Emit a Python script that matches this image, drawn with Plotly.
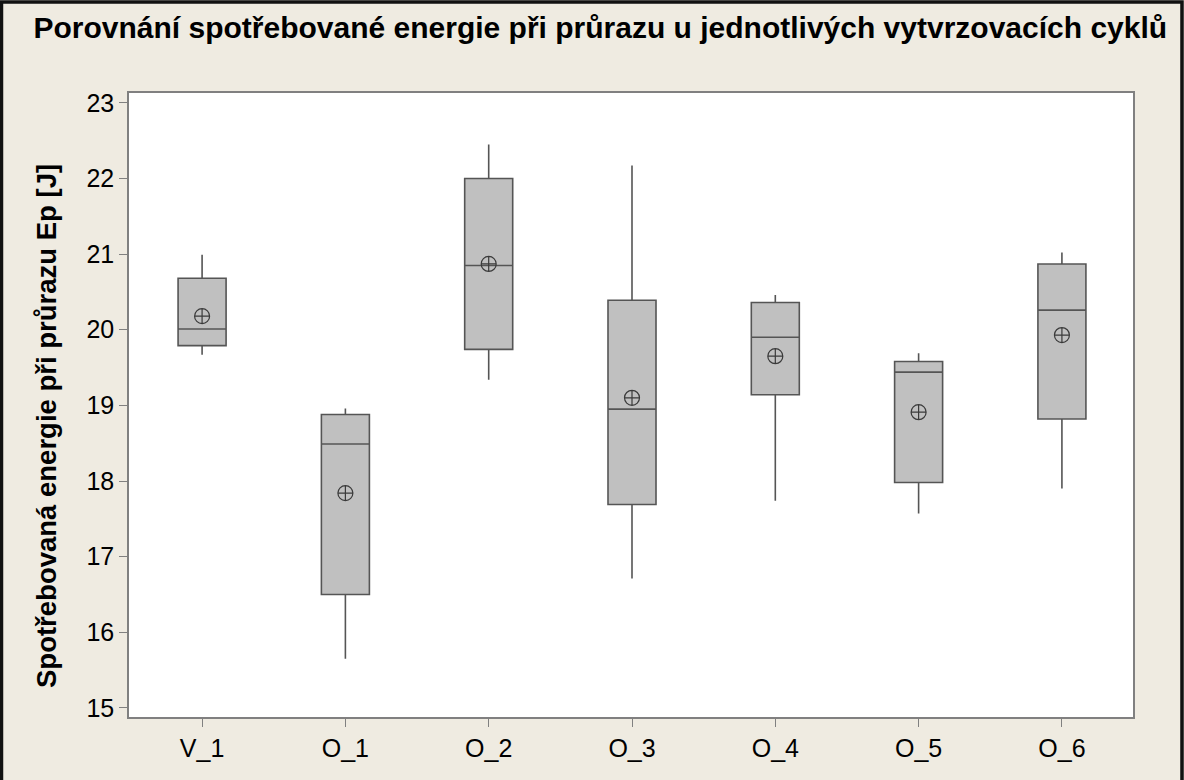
import plotly.graph_objects as go

# Box plot summary of energy consumed at puncture for each curing cycle
categories = ["V_1", "O_1", "O_2", "O_3", "O_4", "O_5", "O_6"]
whisker_low = [19.67, 15.65, 19.34, 16.71, 17.74, 17.57, 17.90]
q1 = [19.79, 16.50, 19.74, 17.69, 19.14, 17.98, 18.82]
median = [20.01, 18.49, 20.85, 18.95, 19.90, 19.44, 20.26]
q3 = [20.68, 18.88, 22.00, 20.39, 20.36, 19.58, 20.87]
whisker_high = [20.99, 18.96, 22.45, 22.17, 20.46, 19.69, 21.02]
means = [20.18, 17.84, 20.87, 19.10, 19.65, 18.91, 19.93]
y_ticks = [15, 16, 17, 18, 19, 20, 21, 22, 23]

title_text = "Porovnání spotřebované energie při průrazu u jednotlivých vytvrzovacích cyklů"
y_title = "Spotřebovaná energie při průrazu Ep [J]"

x_pos = list(range(len(categories)))

fig = go.Figure()
fig.add_trace(go.Box(
    x=x_pos,
    q1=q1,
    median=median,
    q3=q3,
    lowerfence=whisker_low,
    upperfence=whisker_high,
    width=0.335,
    whiskerwidth=0,
    fillcolor="#c0c0c0",
    line=dict(color="#555555", width=1.6),
    boxpoints=False,
    showlegend=False,
    hoverinfo="skip",
))
fig.add_trace(go.Scatter(
    x=x_pos,
    y=means,
    mode="markers",
    marker=dict(symbol="circle-cross-open", size=15, color="#3a3a3a",
                line=dict(width=1.2, color="#3a3a3a")),
    showlegend=False,
    hoverinfo="skip",
))

font_family = "Liberation Sans, Arial, sans-serif"
axis_font = dict(family=font_family, size=25, color="#000000")

fig.update_layout(
    width=1184,
    height=780,
    margin=dict(l=129, r=51, t=93, b=63),
    paper_bgcolor="#efebe1",
    plot_bgcolor="#ffffff",
    title=dict(
        text="<b>" + title_text + "</b>",
        font=dict(family=font_family, size=30, color="#000000"),
        x=0.507, xref="container", xanchor="center",
        y=0.965, yref="container", yanchor="middle",
    ),
    xaxis=dict(
        range=[-0.51, 6.496],
        tickmode="array",
        tickvals=x_pos,
        ticktext=categories,
        ticks="outside",
        ticklen=8,
        tickcolor="#808080",
        showline=True,
        linecolor="#808080",
        linewidth=1.5,
        mirror=True,
        showgrid=False,
        zeroline=False,
        tickfont=axis_font,
    ),
    yaxis=dict(
        range=[14.88, 23.13],
        tickmode="array",
        tickvals=y_ticks,
        ticks="outside",
        ticklen=8,
        tickcolor="#808080",
        showline=True,
        linecolor="#808080",
        linewidth=1.5,
        mirror=True,
        showgrid=False,
        zeroline=False,
        tickfont=axis_font,
    ),
    annotations=[
        dict(text="<b>" + y_title + "</b>", textangle=-90,
             xref="paper", yref="paper", x=-0.0827, y=0.4663,
             xanchor="center", yanchor="middle", showarrow=False,
             font=dict(family=font_family, size=27.5, color="#000000")),
    ],
    shapes=[
        # dark frame around the whole figure
        dict(type="rect", xref="paper", yref="paper",
             x0=-0.1270, x1=1.0488, y0=-0.105, y1=1.1458,
             line=dict(color="#111111", width=3.5), fillcolor="rgba(0,0,0,0)",
             layer="above"),
    ],
)

fig.write_html("out.html")
